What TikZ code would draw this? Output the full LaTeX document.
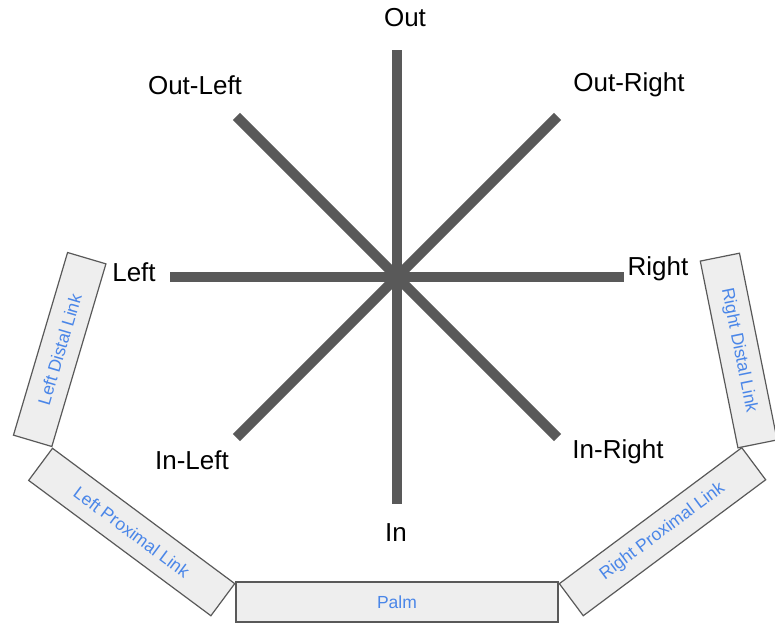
\documentclass[tikz,border=0pt]{standalone}
\usepackage{fontspec}
\setmainfont{Liberation Sans}
\usetikzlibrary{calc,positioning}
\definecolor{spokecol}{RGB}{89,89,89}
\definecolor{linkfill}{RGB}{238,238,238}
\definecolor{linktext}{RGB}{74,134,232}

\begin{document}
\begin{tikzpicture}[x=1pt,y=1pt,
    spoke/.style={draw=spokecol, line width=10pt},
    dirlabel/.style={font=\fontsize{26}{30}\selectfont, inner sep=0pt},
    link/.style={draw=spokecol, line width=1.2pt, fill=linkfill, text=linktext,
      font=\fontsize{17.5}{20}\selectfont, minimum height=40pt, inner sep=0pt}]
  \useasboundingbox (0,0) rectangle (775,-624);
  \coordinate (hub) at (397,-277);
  \foreach \a [count=\n] in {0,45,...,315}{
    \coordinate (tip\n) at ($(hub)+(\a:227)$);
    \draw[spoke] (hub) -- (tip\n);
  }
  \foreach \t/\x/\y [count=\n] in {
    Out/405/18, Out-Left/195/85, Out-Right/629/85, Left/134/272,
    Right/658/269, In-Left/192/460, In-Right/618/452, In/396/533}
    \node[dirlabel] (dir\n) at (\x,-\y) {\t};
  \foreach \t/\x/\y/\w/\r [count=\n] in {
    Palm/397/602/322/0,
    Left Proximal Link/131.7/532/227/-36.6,
    Right Proximal Link/662.5/531.7/227.5/36.7,
    Left Distal Link/59.7/349.5/190.5/73.5,
    Right Distal Link/738.7/350.5/190.5/-78.6}
    \node[link, minimum width=\w pt, rotate=\r] (link\n) at (\x,-\y) {\t};
\end{tikzpicture}
\end{document}
